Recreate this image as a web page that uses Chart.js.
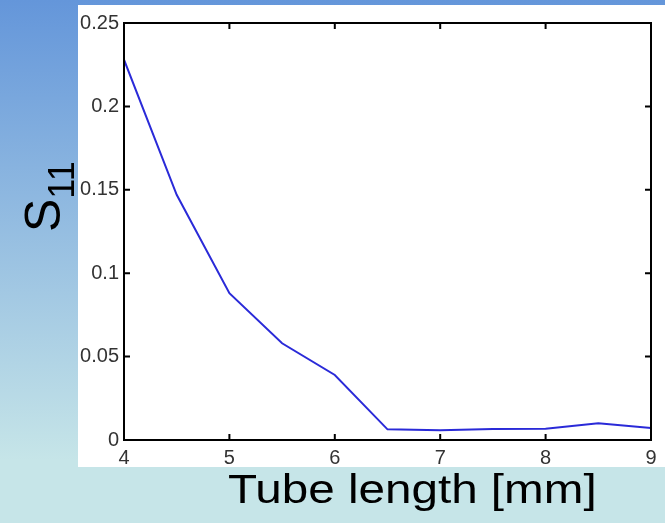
<!DOCTYPE html>
<html>
<head>
<meta charset="utf-8">
<script src="https://cdn.jsdelivr.net/npm/chart.js@4.4.1/dist/chart.umd.min.js"></script>
<style>
    html, body {
        margin: 0;
        padding: 0;
    }
    body {
        width: 665px;
        height: 523px;
        overflow: hidden;
        position: relative;
        background: linear-gradient(to bottom, #6496da 0%, #c6e5e8 88%, #c6e5e8 100%);
    }
    #panel {
        position: absolute;
        left: 78px;
        top: 5px;
        width: 587px;
        height: 462px;
        background: #fff;
    }
    #wrap {
        position: absolute;
        left: 0;
        top: 0;
        width: 665px;
        height: 523px;
    }
</style>
</head>
<body>
<div id="panel"></div>
<div id="wrap"><canvas id="myChart"></canvas></div>
<script>
// tube length [mm] and reflection coefficient S11
var tubeLength = [4, 4.5, 5, 5.5, 6, 6.5, 7, 7.5, 8, 8.5, 9];
var s11 = [0.228, 0.147, 0.088, 0.058, 0.039, 0.0064, 0.0058, 0.0066, 0.0068, 0.0100, 0.0072];

var xTickValues = [4, 5, 6, 7, 8, 9];
var xTickLabels = ['4', '5', '6', '7', '8', '9'];
var yTickValues = [0, 0.05, 0.1, 0.15, 0.2, 0.25];
var yTickLabels = ['0', '0.05', '0.1', '0.15', '0.2', '0.25'];

var tickFont = { family: '"Liberation Sans", Arial, sans-serif', size: 20 };

// matlab style box with inward ticks, plus the two axis titles
var framePlugin = {
    id: 'frame',
    afterDatasetsDraw: function (chart) {
        var ctx = chart.ctx;
        var a = chart.chartArea;
        var xs = chart.scales.x;
        var ys = chart.scales.y;

        ctx.save();
        ctx.strokeStyle = '#000';
        ctx.lineWidth = 2;
        ctx.strokeRect(a.left, a.top, a.right - a.left, a.bottom - a.top);

        ctx.beginPath();
        xs.ticks.forEach(function (t) {
            var px = xs.getPixelForValue(t.value);
            ctx.moveTo(px, a.bottom);
            ctx.lineTo(px, a.bottom - 6);
            ctx.moveTo(px, a.top);
            ctx.lineTo(px, a.top + 6);
        });
        ys.ticks.forEach(function (t) {
            var py = ys.getPixelForValue(t.value);
            ctx.moveTo(a.left, py);
            ctx.lineTo(a.left + 6, py);
            ctx.moveTo(a.right, py);
            ctx.lineTo(a.right - 6, py);
        });
        ctx.stroke();

        ctx.fillStyle = '#000';
        ctx.textBaseline = 'alphabetic';
        ctx.textAlign = 'left';

        // x title, slightly stretched like the original slide
        ctx.save();
        ctx.translate(a.left + 104, a.bottom + 63);
        ctx.scale(1.19, 1);
        ctx.font = '40px "Liberation Sans", Arial, sans-serif';
        ctx.fillText('Tube length [mm]', 0, 0);
        ctx.restore();

        // y title S11 with subscript
        ctx.save();
        ctx.translate(a.left - 64, a.top + 209);
        ctx.rotate(-Math.PI / 2);
        ctx.font = '50px "Liberation Sans", Arial, sans-serif';
        ctx.fillText('S', 0, 0);
        var w = ctx.measureText('S').width;
        ctx.font = '36px "Liberation Sans", Arial, sans-serif';
        ctx.fillText('11', w, 14);
        ctx.restore();

        ctx.restore();
    }
};

var points = tubeLength.map(function (v, i) {
    return { x: v, y: s11[i] };
});

var ctx = document.getElementById('myChart').getContext('2d');
var myChart = new Chart(ctx, {
    type: 'line',
    data: {
        datasets: [{
            label: 'S11',
            data: points,
            borderColor: '#2a2ad8',
            borderWidth: 2,
            pointRadius: 0,
            tension: 0,
            fill: false
        }]
    },
    options: {
        responsive: true,
        maintainAspectRatio: false,
        animation: false,
        layout: {
            padding: { top: 23, right: 14, left: 0, bottom: 0 }
        },
        plugins: {
            legend: { display: false },
            tooltip: { enabled: false }
        },
        scales: {
            x: {
                type: 'linear',
                min: 4,
                max: 9,
                grid: { display: false, drawTicks: false },
                border: { display: false },
                afterBuildTicks: function (scale) {
                    scale.ticks = xTickValues.map(function (v) { return { value: v }; });
                },
                afterFit: function (scale) {
                    scale.height = 83;
                },
                ticks: {
                    padding: 6,
                    color: '#333',
                    font: tickFont,
                    maxRotation: 0,
                    callback: function (value, index) {
                        return xTickLabels[index];
                    }
                }
            },
            y: {
                min: 0,
                max: 0.25,
                grid: { display: false, drawTicks: false },
                border: { display: false },
                afterBuildTicks: function (scale) {
                    scale.ticks = yTickValues.map(function (v) { return { value: v }; });
                },
                afterFit: function (scale) {
                    scale.width = 124;
                },
                ticks: {
                    padding: 5,
                    color: '#333',
                    font: tickFont,
                    callback: function (value, index) {
                        return yTickLabels[index];
                    }
                }
            }
        }
    },
    plugins: [framePlugin]
});
</script>
</body>
</html>
